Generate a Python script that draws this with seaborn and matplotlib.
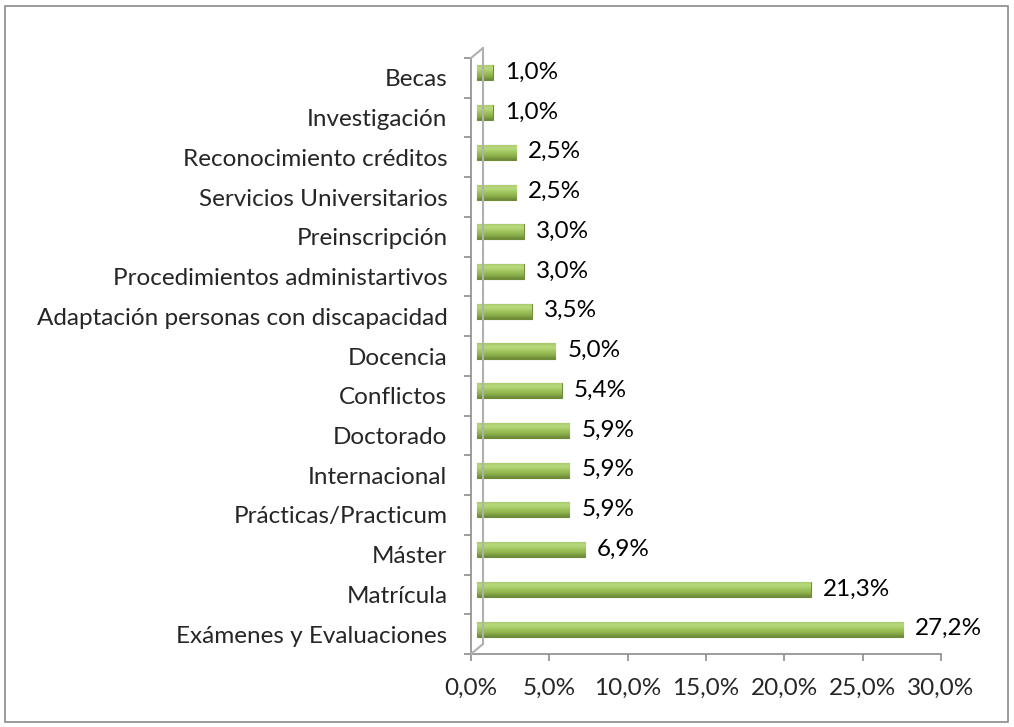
import matplotlib
matplotlib.use("Agg")
import matplotlib.pyplot as plt
import matplotlib.transforms as mtransforms
from matplotlib.colors import LinearSegmentedColormap
from matplotlib.patches import Rectangle
import numpy as np
import seaborn as sns
import pandas as pd

# Data (top to bottom as in the chart)
categories = ["Becas", "Investigación", "Reconocimiento créditos", "Servicios Universitarios",
              "Preinscripción", "Procedimientos administartivos",
              "Adaptación personas con discapacidad", "Docencia", "Conflictos", "Doctorado",
              "Internacional", "Prácticas/Practicum", "Máster", "Matrícula",
              "Exámenes y Evaluaciones"]
values = [1.0, 1.0, 2.5, 2.5, 3.0, 3.0, 3.5, 5.0, 5.4, 5.9, 5.9, 5.9, 6.9, 21.3, 27.2]
xticks = [0, 5, 10, 15, 20, 25, 30]

df = pd.DataFrame({"tema": categories, "pct": values})

sns.set_theme(style="white")
plt.rcParams['font.family'] = ['Lato', 'DejaVu Sans']
FS = 17.5
AXIS_GRAY = "#8c8c8c"

fig = plt.figure(figsize=(10.14, 7.27), dpi=100)
ax = fig.add_axes([0.4645, 0.1004, 0.4635, 0.8198])

sns.barplot(data=df, x="pct", y="tema", orient="h", color="#9bbf55", width=0.38,
            edgecolor="#6f8c3a", linewidth=0.8, saturation=1, ax=ax)

# 3D look: bars sit halfway into the depth, shaded like cylinders
depth = mtransforms.ScaledTranslation(6 / 100, 5 / 100, fig.dpi_scale_trans)
shade = LinearSegmentedColormap.from_list(
    "cyl", ["#a6c86a", "#b8da7e", "#a2c75e", "#8db04c", "#6b8838"])
grad = np.linspace(0, 1, 64).reshape(-1, 1)
for p in ax.patches:
    p.set_transform(ax.transData + depth)
    x0, y0, w, h = p.get_x(), p.get_y(), p.get_width(), p.get_height()
    im = ax.imshow(grad, cmap=shade, aspect="auto", origin="upper",
                   extent=(x0, x0 + w, y0 + h, y0), zorder=p.get_zorder() + 0.1)
    im.set_transform(ax.transData + depth)
    im.set_clip_path(p)

for i, v in enumerate(values):
    ax.annotate(f"{v:.1f}%".replace(".", ","), xy=(v, i), xytext=(13, 4),
                textcoords="offset points", va="center", ha="left", fontsize=FS,
                color="black")

ax.set_xlim(0, 30)
ax.set_ylim(len(categories) - 0.5, -0.5)
ax.set_aspect("auto")
ax.set_xticks(xticks)
ax.set_xticklabels([f"{t:.1f}%".replace(".", ",") for t in xticks], fontsize=FS)
ax.set_yticks(range(len(categories)))
ax.set_yticklabels(categories, fontsize=FS)
ax.set_xlabel("")
ax.set_ylabel("")

# ticks between categories on y
ax.set_yticks([i - 0.5 for i in range(len(categories) + 1)], minor=True)
ax.tick_params(axis="y", which="major", length=0, pad=17)
ax.tick_params(axis="y", which="minor", length=5, color=AXIS_GRAY, width=1.2, direction="out", left=True)
ax.tick_params(axis="x", length=5, color=AXIS_GRAY, width=1.2, direction="out", bottom=True, pad=12)

for side in ["top", "right"]:
    ax.spines[side].set_visible(False)
for side in ["left", "bottom"]:
    ax.spines[side].set_color(AXIS_GRAY)
    ax.spines[side].set_linewidth(1.2)

# back wall of the 3D plot area
wall = ax.transAxes + mtransforms.ScaledTranslation(12 / 100, 10 / 100, fig.dpi_scale_trans)
ax.plot([0, 0], [0, 1], color="#b0b0b0", lw=1.5, transform=wall, clip_on=False)
corner = ax.transAxes
for yy in (0, 1):
    p0 = corner.transform((0, yy))
    p1 = wall.transform((0, yy))
    fig.add_artist(plt.Line2D([p0[0] / fig.bbox.width, p1[0] / fig.bbox.width],
                              [p0[1] / fig.bbox.height, p1[1] / fig.bbox.height],
                              color="#b0b0b0", lw=1.5, transform=fig.transFigure))

# outer chart border
fig.add_artist(Rectangle((5 / 1014, 5 / 727), 1003 / 1014, 716 / 727, fill=False,
                         edgecolor="#8a8a8a", lw=1.2, transform=fig.transFigure))

fig.savefig("out.png", dpi=100)
